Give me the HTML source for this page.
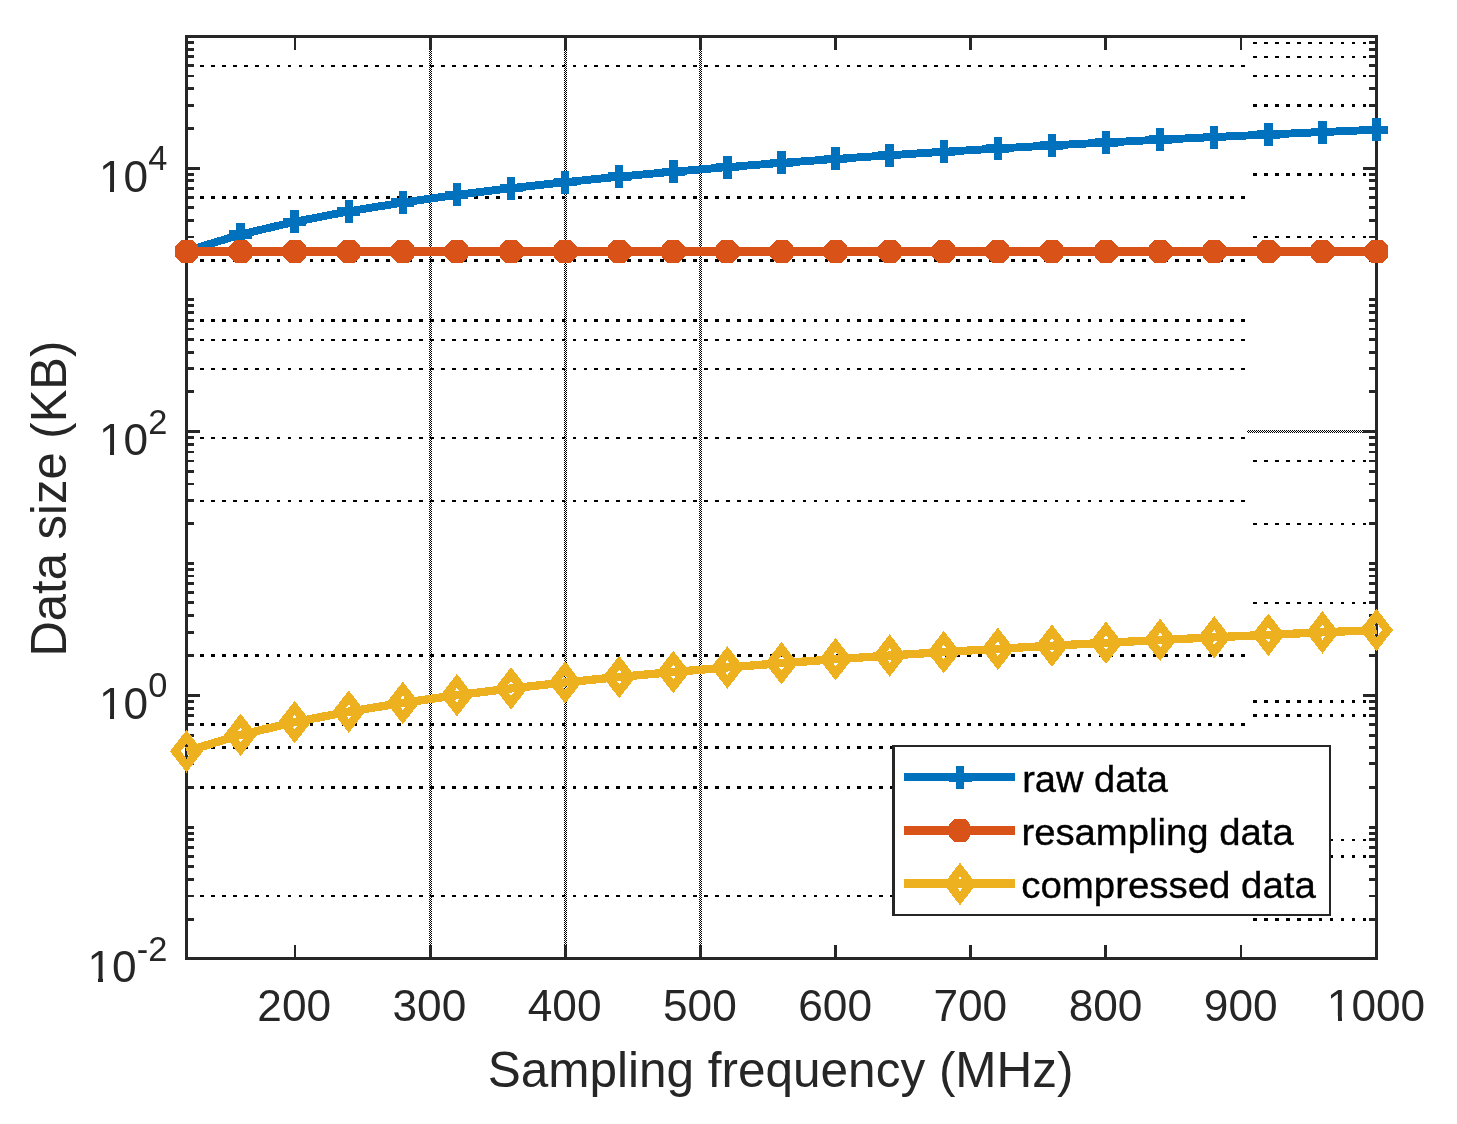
<!DOCTYPE html>
<html lang="en"><head><meta charset="utf-8"><title>Data size vs sampling frequency</title>
<style>html,body{margin:0;padding:0;background:#fff}body{width:1457px;height:1124px;overflow:hidden}svg{display:block}text{font-family:"Liberation Sans",sans-serif}</style></head><body>
<svg width="1457" height="1124" viewBox="0 0 1457 1124">
<defs><pattern id="chk" width="2" height="2" patternUnits="userSpaceOnUse"><rect x="0" y="0" width="1" height="1" fill="#000"/><rect x="1" y="1" width="1" height="1" fill="#000"/></pattern></defs>
<rect width="1457" height="1124" fill="#fff"/>
<g shape-rendering="crispEdges">
<rect x="429" y="50" width="3" height="895" fill="url(#chk)"/>
<rect x="564" y="50" width="3" height="895" fill="url(#chk)"/>
<rect x="699" y="50" width="3" height="895" fill="url(#chk)"/>
<rect x="1247" y="430" width="116" height="3" fill="url(#chk)"/>
<line x1="200" y1="66.0" x2="1245.4" y2="66.0" stroke="#000" stroke-width="2" stroke-dasharray="3.72 7.238"/>
<line x1="200" y1="197.5" x2="1245.4" y2="197.5" stroke="#000" stroke-width="3" stroke-dasharray="3.72 7.238"/>
<line x1="200" y1="260.5" x2="1245.4" y2="260.5" stroke="#000" stroke-width="3" stroke-dasharray="3.72 7.238"/>
<line x1="200" y1="320.5" x2="1245.4" y2="320.5" stroke="#000" stroke-width="3" stroke-dasharray="3.72 7.238"/>
<line x1="200" y1="340.0" x2="1245.4" y2="340.0" stroke="#000" stroke-width="2" stroke-dasharray="3.72 7.238"/>
<line x1="200" y1="369.0" x2="1245.4" y2="369.0" stroke="#000" stroke-width="2" stroke-dasharray="3.72 7.238"/>
<line x1="200" y1="438.0" x2="1245.4" y2="438.0" stroke="#000" stroke-width="2" stroke-dasharray="3.72 7.238"/>
<line x1="200" y1="501.0" x2="1245.4" y2="501.0" stroke="#000" stroke-width="2" stroke-dasharray="3.72 7.238"/>
<line x1="200" y1="655.5" x2="1245.4" y2="655.5" stroke="#000" stroke-width="3" stroke-dasharray="3.72 7.238"/>
<line x1="200" y1="724.5" x2="1245.4" y2="724.5" stroke="#000" stroke-width="3" stroke-dasharray="3.72 7.238"/>
<line x1="200" y1="747.5" x2="1245.4" y2="747.5" stroke="#000" stroke-width="3" stroke-dasharray="3.72 7.238"/>
<line x1="200" y1="787.5" x2="1245.4" y2="787.5" stroke="#000" stroke-width="3" stroke-dasharray="3.72 7.238"/>
<line x1="200" y1="896.0" x2="1245.4" y2="896.0" stroke="#000" stroke-width="2" stroke-dasharray="3.72 7.238"/>
<line x1="1253" y1="43.0" x2="1367" y2="43.0" stroke="#000" stroke-width="2" stroke-dasharray="3.72 7.238"/>
<line x1="1253" y1="57.0" x2="1367" y2="57.0" stroke="#000" stroke-width="2" stroke-dasharray="3.72 7.238"/>
<line x1="1253" y1="76.0" x2="1367" y2="76.0" stroke="#000" stroke-width="2" stroke-dasharray="3.72 7.238"/>
<line x1="1253" y1="105.5" x2="1367" y2="105.5" stroke="#000" stroke-width="3" stroke-dasharray="3.72 7.238"/>
<line x1="1253" y1="174.5" x2="1367" y2="174.5" stroke="#000" stroke-width="3" stroke-dasharray="3.72 7.238"/>
<line x1="1253" y1="237.0" x2="1367" y2="237.0" stroke="#000" stroke-width="2" stroke-dasharray="3.72 7.238"/>
<line x1="1253" y1="461.0" x2="1367" y2="461.0" stroke="#000" stroke-width="2" stroke-dasharray="3.72 7.238"/>
<line x1="1253" y1="524.0" x2="1367" y2="524.0" stroke="#000" stroke-width="2" stroke-dasharray="3.72 7.238"/>
<line x1="1253" y1="603.0" x2="1367" y2="603.0" stroke="#000" stroke-width="2" stroke-dasharray="3.72 7.238"/>
<line x1="1253" y1="701.5" x2="1367" y2="701.5" stroke="#000" stroke-width="3" stroke-dasharray="3.72 7.238"/>
<line x1="1253" y1="715.5" x2="1367" y2="715.5" stroke="#000" stroke-width="3" stroke-dasharray="3.72 7.238"/>
<line x1="1253" y1="840.0" x2="1367" y2="840.0" stroke="#000" stroke-width="2" stroke-dasharray="3.72 7.238"/>
<line x1="1253" y1="856.5" x2="1367" y2="856.5" stroke="#000" stroke-width="3" stroke-dasharray="3.72 7.238"/>
<line x1="1253" y1="919.5" x2="1367" y2="919.5" stroke="#000" stroke-width="3" stroke-dasharray="3.72 7.238"/>
</g>
<g shape-rendering="crispEdges" fill="#262626">
<rect x="185" y="35" width="1193" height="3"/>
<rect x="185" y="957" width="1193" height="3"/>
<rect x="185" y="35" width="3" height="925"/>
<rect x="1375" y="35" width="3" height="925"/>
<rect x="294" y="38" width="2" height="12"/>
<rect x="294" y="945" width="2" height="12"/>
<rect x="429" y="38" width="3" height="12"/>
<rect x="429" y="945" width="3" height="12"/>
<rect x="564" y="38" width="3" height="12"/>
<rect x="564" y="945" width="3" height="12"/>
<rect x="699" y="38" width="3" height="12"/>
<rect x="699" y="945" width="3" height="12"/>
<rect x="834" y="38" width="3" height="12"/>
<rect x="834" y="945" width="3" height="12"/>
<rect x="969" y="38" width="3" height="12"/>
<rect x="969" y="945" width="3" height="12"/>
<rect x="1104" y="38" width="3" height="12"/>
<rect x="1104" y="945" width="3" height="12"/>
<rect x="1240" y="38" width="2" height="12"/>
<rect x="1240" y="945" width="2" height="12"/>
<rect x="188" y="918" width="6" height="3"/>
<rect x="1369" y="918" width="6" height="3"/>
<rect x="188" y="895" width="6" height="2"/>
<rect x="1369" y="895" width="6" height="2"/>
<rect x="188" y="878" width="6" height="3"/>
<rect x="1369" y="878" width="6" height="3"/>
<rect x="188" y="865" width="6" height="3"/>
<rect x="1369" y="865" width="6" height="3"/>
<rect x="188" y="855" width="6" height="3"/>
<rect x="1369" y="855" width="6" height="3"/>
<rect x="188" y="846" width="6" height="3"/>
<rect x="1369" y="846" width="6" height="3"/>
<rect x="188" y="838" width="6" height="3"/>
<rect x="1369" y="838" width="6" height="3"/>
<rect x="188" y="832" width="6" height="3"/>
<rect x="1369" y="832" width="6" height="3"/>
<rect x="188" y="826" width="6" height="3"/>
<rect x="1369" y="826" width="6" height="3"/>
<rect x="188" y="786" width="6" height="3"/>
<rect x="1369" y="786" width="6" height="3"/>
<rect x="188" y="762" width="6" height="3"/>
<rect x="1369" y="762" width="6" height="3"/>
<rect x="188" y="746" width="6" height="3"/>
<rect x="1369" y="746" width="6" height="3"/>
<rect x="188" y="734" width="6" height="3"/>
<rect x="1369" y="734" width="6" height="3"/>
<rect x="188" y="723" width="6" height="3"/>
<rect x="1369" y="723" width="6" height="3"/>
<rect x="188" y="714" width="6" height="3"/>
<rect x="1369" y="714" width="6" height="3"/>
<rect x="188" y="707" width="6" height="3"/>
<rect x="1369" y="707" width="6" height="3"/>
<rect x="188" y="700" width="6" height="3"/>
<rect x="1369" y="700" width="6" height="3"/>
<rect x="188" y="694" width="12" height="3"/>
<rect x="1363" y="694" width="12" height="3"/>
<rect x="188" y="654" width="6" height="3"/>
<rect x="1369" y="654" width="6" height="3"/>
<rect x="188" y="631" width="6" height="3"/>
<rect x="1369" y="631" width="6" height="3"/>
<rect x="188" y="614" width="6" height="3"/>
<rect x="1369" y="614" width="6" height="3"/>
<rect x="188" y="601" width="6" height="3"/>
<rect x="1369" y="601" width="6" height="3"/>
<rect x="188" y="591" width="6" height="3"/>
<rect x="1369" y="591" width="6" height="3"/>
<rect x="188" y="582" width="6" height="3"/>
<rect x="1369" y="582" width="6" height="3"/>
<rect x="188" y="575" width="6" height="2"/>
<rect x="1369" y="575" width="6" height="2"/>
<rect x="188" y="568" width="6" height="3"/>
<rect x="1369" y="568" width="6" height="3"/>
<rect x="188" y="562" width="6" height="3"/>
<rect x="1369" y="562" width="6" height="3"/>
<rect x="188" y="522" width="6" height="3"/>
<rect x="1369" y="522" width="6" height="3"/>
<rect x="188" y="499" width="6" height="3"/>
<rect x="1369" y="499" width="6" height="3"/>
<rect x="188" y="483" width="6" height="2"/>
<rect x="1369" y="483" width="6" height="2"/>
<rect x="188" y="470" width="6" height="3"/>
<rect x="1369" y="470" width="6" height="3"/>
<rect x="188" y="460" width="6" height="2"/>
<rect x="1369" y="460" width="6" height="2"/>
<rect x="188" y="451" width="6" height="2"/>
<rect x="1369" y="451" width="6" height="2"/>
<rect x="188" y="443" width="6" height="3"/>
<rect x="1369" y="443" width="6" height="3"/>
<rect x="188" y="436" width="6" height="3"/>
<rect x="1369" y="436" width="6" height="3"/>
<rect x="188" y="430" width="12" height="3"/>
<rect x="1363" y="430" width="12" height="3"/>
<rect x="188" y="390" width="6" height="3"/>
<rect x="1369" y="390" width="6" height="3"/>
<rect x="188" y="367" width="6" height="3"/>
<rect x="1369" y="367" width="6" height="3"/>
<rect x="188" y="351" width="6" height="3"/>
<rect x="1369" y="351" width="6" height="3"/>
<rect x="188" y="338" width="6" height="3"/>
<rect x="1369" y="338" width="6" height="3"/>
<rect x="188" y="328" width="6" height="2"/>
<rect x="1369" y="328" width="6" height="2"/>
<rect x="188" y="319" width="6" height="3"/>
<rect x="1369" y="319" width="6" height="3"/>
<rect x="188" y="311" width="6" height="3"/>
<rect x="1369" y="311" width="6" height="3"/>
<rect x="188" y="304" width="6" height="3"/>
<rect x="1369" y="304" width="6" height="3"/>
<rect x="188" y="298" width="6" height="3"/>
<rect x="1369" y="298" width="6" height="3"/>
<rect x="188" y="259" width="6" height="3"/>
<rect x="1369" y="259" width="6" height="3"/>
<rect x="188" y="236" width="6" height="2"/>
<rect x="1369" y="236" width="6" height="2"/>
<rect x="188" y="219" width="6" height="3"/>
<rect x="1369" y="219" width="6" height="3"/>
<rect x="188" y="206" width="6" height="3"/>
<rect x="1369" y="206" width="6" height="3"/>
<rect x="188" y="196" width="6" height="3"/>
<rect x="1369" y="196" width="6" height="3"/>
<rect x="188" y="187" width="6" height="3"/>
<rect x="1369" y="187" width="6" height="3"/>
<rect x="188" y="179" width="6" height="3"/>
<rect x="1369" y="179" width="6" height="3"/>
<rect x="188" y="173" width="6" height="3"/>
<rect x="1369" y="173" width="6" height="3"/>
<rect x="188" y="167" width="12" height="3"/>
<rect x="1363" y="167" width="12" height="3"/>
<rect x="188" y="127" width="6" height="3"/>
<rect x="1369" y="127" width="6" height="3"/>
<rect x="188" y="104" width="6" height="3"/>
<rect x="1369" y="104" width="6" height="3"/>
<rect x="188" y="87" width="6" height="3"/>
<rect x="1369" y="87" width="6" height="3"/>
<rect x="188" y="75" width="6" height="2"/>
<rect x="1369" y="75" width="6" height="2"/>
<rect x="188" y="64" width="6" height="3"/>
<rect x="1369" y="64" width="6" height="3"/>
<rect x="188" y="55" width="6" height="3"/>
<rect x="1369" y="55" width="6" height="3"/>
<rect x="188" y="48" width="6" height="3"/>
<rect x="1369" y="48" width="6" height="3"/>
<rect x="188" y="41" width="6" height="3"/>
<rect x="1369" y="41" width="6" height="3"/>
</g>
<g shape-rendering="crispEdges">
<polyline points="186.50,251.00 240.59,234.54 294.68,221.78 348.77,211.35 402.86,202.53 456.95,194.89 511.05,188.16 565.14,182.13 619.23,176.68 673.32,171.70 727.41,167.12 781.50,162.88 835.59,158.94 889.68,155.24 943.77,151.78 997.86,148.51 1051.95,145.41 1106.05,142.48 1160.14,139.69 1214.23,137.03 1268.32,134.48 1322.41,132.05 1376.50,129.72" fill="none" stroke="#0072BD" stroke-width="7.9" stroke-linejoin="miter"/>
<rect x="182.30" y="239.50" width="8.4" height="23" fill="#0072BD"/>
<rect x="175.00" y="246.80" width="23" height="8.4" fill="#0072BD"/>
<rect x="236.39" y="223.04" width="8.4" height="23" fill="#0072BD"/>
<rect x="229.09" y="230.34" width="23" height="8.4" fill="#0072BD"/>
<rect x="290.48" y="210.28" width="8.4" height="23" fill="#0072BD"/>
<rect x="283.18" y="217.58" width="23" height="8.4" fill="#0072BD"/>
<rect x="344.57" y="199.85" width="8.4" height="23" fill="#0072BD"/>
<rect x="337.27" y="207.15" width="23" height="8.4" fill="#0072BD"/>
<rect x="398.66" y="191.03" width="8.4" height="23" fill="#0072BD"/>
<rect x="391.36" y="198.33" width="23" height="8.4" fill="#0072BD"/>
<rect x="452.75" y="183.39" width="8.4" height="23" fill="#0072BD"/>
<rect x="445.45" y="190.69" width="23" height="8.4" fill="#0072BD"/>
<rect x="506.85" y="176.66" width="8.4" height="23" fill="#0072BD"/>
<rect x="499.55" y="183.96" width="23" height="8.4" fill="#0072BD"/>
<rect x="560.94" y="170.63" width="8.4" height="23" fill="#0072BD"/>
<rect x="553.64" y="177.93" width="23" height="8.4" fill="#0072BD"/>
<rect x="615.03" y="165.18" width="8.4" height="23" fill="#0072BD"/>
<rect x="607.73" y="172.48" width="23" height="8.4" fill="#0072BD"/>
<rect x="669.12" y="160.20" width="8.4" height="23" fill="#0072BD"/>
<rect x="661.82" y="167.50" width="23" height="8.4" fill="#0072BD"/>
<rect x="723.21" y="155.62" width="8.4" height="23" fill="#0072BD"/>
<rect x="715.91" y="162.92" width="23" height="8.4" fill="#0072BD"/>
<rect x="777.30" y="151.38" width="8.4" height="23" fill="#0072BD"/>
<rect x="770.00" y="158.68" width="23" height="8.4" fill="#0072BD"/>
<rect x="831.39" y="147.44" width="8.4" height="23" fill="#0072BD"/>
<rect x="824.09" y="154.74" width="23" height="8.4" fill="#0072BD"/>
<rect x="885.48" y="143.74" width="8.4" height="23" fill="#0072BD"/>
<rect x="878.18" y="151.04" width="23" height="8.4" fill="#0072BD"/>
<rect x="939.57" y="140.28" width="8.4" height="23" fill="#0072BD"/>
<rect x="932.27" y="147.58" width="23" height="8.4" fill="#0072BD"/>
<rect x="993.66" y="137.01" width="8.4" height="23" fill="#0072BD"/>
<rect x="986.36" y="144.31" width="23" height="8.4" fill="#0072BD"/>
<rect x="1047.75" y="133.91" width="8.4" height="23" fill="#0072BD"/>
<rect x="1040.45" y="141.21" width="23" height="8.4" fill="#0072BD"/>
<rect x="1101.85" y="130.98" width="8.4" height="23" fill="#0072BD"/>
<rect x="1094.55" y="138.28" width="23" height="8.4" fill="#0072BD"/>
<rect x="1155.94" y="128.19" width="8.4" height="23" fill="#0072BD"/>
<rect x="1148.64" y="135.49" width="23" height="8.4" fill="#0072BD"/>
<rect x="1210.03" y="125.53" width="8.4" height="23" fill="#0072BD"/>
<rect x="1202.73" y="132.83" width="23" height="8.4" fill="#0072BD"/>
<rect x="1264.12" y="122.98" width="8.4" height="23" fill="#0072BD"/>
<rect x="1256.82" y="130.28" width="23" height="8.4" fill="#0072BD"/>
<rect x="1318.21" y="120.55" width="8.4" height="23" fill="#0072BD"/>
<rect x="1310.91" y="127.85" width="23" height="8.4" fill="#0072BD"/>
<rect x="1372.30" y="118.22" width="8.4" height="23" fill="#0072BD"/>
<rect x="1365.00" y="125.52" width="23" height="8.4" fill="#0072BD"/>
<rect x="186.50" y="247" width="1190.00" height="9" fill="#D95319"/>
<polygon points="181.00,240.00 192.00,240.00 198.00,246.00 198.00,257.00 192.00,263.00 181.00,263.00 175.00,257.00 175.00,246.00" fill="#D95319"/>
<polygon points="235.09,240.00 246.09,240.00 252.09,246.00 252.09,257.00 246.09,263.00 235.09,263.00 229.09,257.00 229.09,246.00" fill="#D95319"/>
<polygon points="289.18,240.00 300.18,240.00 306.18,246.00 306.18,257.00 300.18,263.00 289.18,263.00 283.18,257.00 283.18,246.00" fill="#D95319"/>
<polygon points="343.27,240.00 354.27,240.00 360.27,246.00 360.27,257.00 354.27,263.00 343.27,263.00 337.27,257.00 337.27,246.00" fill="#D95319"/>
<polygon points="397.36,240.00 408.36,240.00 414.36,246.00 414.36,257.00 408.36,263.00 397.36,263.00 391.36,257.00 391.36,246.00" fill="#D95319"/>
<polygon points="451.45,240.00 462.45,240.00 468.45,246.00 468.45,257.00 462.45,263.00 451.45,263.00 445.45,257.00 445.45,246.00" fill="#D95319"/>
<polygon points="505.55,240.00 516.55,240.00 522.55,246.00 522.55,257.00 516.55,263.00 505.55,263.00 499.55,257.00 499.55,246.00" fill="#D95319"/>
<polygon points="559.64,240.00 570.64,240.00 576.64,246.00 576.64,257.00 570.64,263.00 559.64,263.00 553.64,257.00 553.64,246.00" fill="#D95319"/>
<polygon points="613.73,240.00 624.73,240.00 630.73,246.00 630.73,257.00 624.73,263.00 613.73,263.00 607.73,257.00 607.73,246.00" fill="#D95319"/>
<polygon points="667.82,240.00 678.82,240.00 684.82,246.00 684.82,257.00 678.82,263.00 667.82,263.00 661.82,257.00 661.82,246.00" fill="#D95319"/>
<polygon points="721.91,240.00 732.91,240.00 738.91,246.00 738.91,257.00 732.91,263.00 721.91,263.00 715.91,257.00 715.91,246.00" fill="#D95319"/>
<polygon points="776.00,240.00 787.00,240.00 793.00,246.00 793.00,257.00 787.00,263.00 776.00,263.00 770.00,257.00 770.00,246.00" fill="#D95319"/>
<polygon points="830.09,240.00 841.09,240.00 847.09,246.00 847.09,257.00 841.09,263.00 830.09,263.00 824.09,257.00 824.09,246.00" fill="#D95319"/>
<polygon points="884.18,240.00 895.18,240.00 901.18,246.00 901.18,257.00 895.18,263.00 884.18,263.00 878.18,257.00 878.18,246.00" fill="#D95319"/>
<polygon points="938.27,240.00 949.27,240.00 955.27,246.00 955.27,257.00 949.27,263.00 938.27,263.00 932.27,257.00 932.27,246.00" fill="#D95319"/>
<polygon points="992.36,240.00 1003.36,240.00 1009.36,246.00 1009.36,257.00 1003.36,263.00 992.36,263.00 986.36,257.00 986.36,246.00" fill="#D95319"/>
<polygon points="1046.45,240.00 1057.45,240.00 1063.45,246.00 1063.45,257.00 1057.45,263.00 1046.45,263.00 1040.45,257.00 1040.45,246.00" fill="#D95319"/>
<polygon points="1100.55,240.00 1111.55,240.00 1117.55,246.00 1117.55,257.00 1111.55,263.00 1100.55,263.00 1094.55,257.00 1094.55,246.00" fill="#D95319"/>
<polygon points="1154.64,240.00 1165.64,240.00 1171.64,246.00 1171.64,257.00 1165.64,263.00 1154.64,263.00 1148.64,257.00 1148.64,246.00" fill="#D95319"/>
<polygon points="1208.73,240.00 1219.73,240.00 1225.73,246.00 1225.73,257.00 1219.73,263.00 1208.73,263.00 1202.73,257.00 1202.73,246.00" fill="#D95319"/>
<polygon points="1262.82,240.00 1273.82,240.00 1279.82,246.00 1279.82,257.00 1273.82,263.00 1262.82,263.00 1256.82,257.00 1256.82,246.00" fill="#D95319"/>
<polygon points="1316.91,240.00 1327.91,240.00 1333.91,246.00 1333.91,257.00 1327.91,263.00 1316.91,263.00 1310.91,257.00 1310.91,246.00" fill="#D95319"/>
<polygon points="1371.00,240.00 1382.00,240.00 1388.00,246.00 1388.00,257.00 1382.00,263.00 1371.00,263.00 1365.00,257.00 1365.00,246.00" fill="#D95319"/>
<polyline points="186.50,751.30 240.59,734.84 294.68,722.08 348.77,711.65 402.86,702.83 456.95,695.19 511.05,688.46 565.14,682.43 619.23,676.98 673.32,672.00 727.41,667.42 781.50,663.18 835.59,659.24 889.68,655.54 943.77,652.08 997.86,648.81 1051.95,645.71 1106.05,642.78 1160.14,639.99 1214.23,637.33 1268.32,634.78 1322.41,632.35 1376.50,630.02" fill="none" stroke="#EDB120" stroke-width="8.3" stroke-linejoin="miter"/>
<path fill-rule="evenodd" fill="#EDB120" d="M186.50 730.00L203.00 751.30L186.50 772.60L170.00 751.30ZM186.50 744.00L192.20 751.30L186.50 758.60L180.80 751.30Z"/>
<path fill-rule="evenodd" fill="#EDB120" d="M240.59 713.54L257.09 734.84L240.59 756.14L224.09 734.84ZM240.59 727.54L246.29 734.84L240.59 742.14L234.89 734.84Z"/>
<path fill-rule="evenodd" fill="#EDB120" d="M294.68 700.78L311.18 722.08L294.68 743.38L278.18 722.08ZM294.68 714.78L300.38 722.08L294.68 729.38L288.98 722.08Z"/>
<path fill-rule="evenodd" fill="#EDB120" d="M348.77 690.35L365.27 711.65L348.77 732.95L332.27 711.65ZM348.77 704.35L354.47 711.65L348.77 718.95L343.07 711.65Z"/>
<path fill-rule="evenodd" fill="#EDB120" d="M402.86 681.53L419.36 702.83L402.86 724.13L386.36 702.83ZM402.86 695.53L408.56 702.83L402.86 710.13L397.16 702.83Z"/>
<path fill-rule="evenodd" fill="#EDB120" d="M456.95 673.89L473.45 695.19L456.95 716.49L440.45 695.19ZM456.95 687.89L462.65 695.19L456.95 702.49L451.25 695.19Z"/>
<path fill-rule="evenodd" fill="#EDB120" d="M511.05 667.16L527.55 688.46L511.05 709.76L494.55 688.46ZM511.05 681.16L516.75 688.46L511.05 695.76L505.35 688.46Z"/>
<path fill-rule="evenodd" fill="#EDB120" d="M565.14 661.13L581.64 682.43L565.14 703.73L548.64 682.43ZM565.14 675.13L570.84 682.43L565.14 689.73L559.44 682.43Z"/>
<path fill-rule="evenodd" fill="#EDB120" d="M619.23 655.68L635.73 676.98L619.23 698.28L602.73 676.98ZM619.23 669.68L624.93 676.98L619.23 684.28L613.53 676.98Z"/>
<path fill-rule="evenodd" fill="#EDB120" d="M673.32 650.70L689.82 672.00L673.32 693.30L656.82 672.00ZM673.32 664.70L679.02 672.00L673.32 679.30L667.62 672.00Z"/>
<path fill-rule="evenodd" fill="#EDB120" d="M727.41 646.12L743.91 667.42L727.41 688.72L710.91 667.42ZM727.41 660.12L733.11 667.42L727.41 674.72L721.71 667.42Z"/>
<path fill-rule="evenodd" fill="#EDB120" d="M781.50 641.88L798.00 663.18L781.50 684.48L765.00 663.18ZM781.50 655.88L787.20 663.18L781.50 670.48L775.80 663.18Z"/>
<path fill-rule="evenodd" fill="#EDB120" d="M835.59 637.94L852.09 659.24L835.59 680.54L819.09 659.24ZM835.59 651.94L841.29 659.24L835.59 666.54L829.89 659.24Z"/>
<path fill-rule="evenodd" fill="#EDB120" d="M889.68 634.24L906.18 655.54L889.68 676.84L873.18 655.54ZM889.68 648.24L895.38 655.54L889.68 662.84L883.98 655.54Z"/>
<path fill-rule="evenodd" fill="#EDB120" d="M943.77 630.78L960.27 652.08L943.77 673.38L927.27 652.08ZM943.77 644.78L949.47 652.08L943.77 659.38L938.07 652.08Z"/>
<path fill-rule="evenodd" fill="#EDB120" d="M997.86 627.51L1014.36 648.81L997.86 670.11L981.36 648.81ZM997.86 641.51L1003.56 648.81L997.86 656.11L992.16 648.81Z"/>
<path fill-rule="evenodd" fill="#EDB120" d="M1051.95 624.41L1068.45 645.71L1051.95 667.01L1035.45 645.71ZM1051.95 638.41L1057.65 645.71L1051.95 653.01L1046.25 645.71Z"/>
<path fill-rule="evenodd" fill="#EDB120" d="M1106.05 621.48L1122.55 642.78L1106.05 664.08L1089.55 642.78ZM1106.05 635.48L1111.75 642.78L1106.05 650.08L1100.35 642.78Z"/>
<path fill-rule="evenodd" fill="#EDB120" d="M1160.14 618.69L1176.64 639.99L1160.14 661.29L1143.64 639.99ZM1160.14 632.69L1165.84 639.99L1160.14 647.29L1154.44 639.99Z"/>
<path fill-rule="evenodd" fill="#EDB120" d="M1214.23 616.03L1230.73 637.33L1214.23 658.63L1197.73 637.33ZM1214.23 630.03L1219.93 637.33L1214.23 644.63L1208.53 637.33Z"/>
<path fill-rule="evenodd" fill="#EDB120" d="M1268.32 613.48L1284.82 634.78L1268.32 656.08L1251.82 634.78ZM1268.32 627.48L1274.02 634.78L1268.32 642.08L1262.62 634.78Z"/>
<path fill-rule="evenodd" fill="#EDB120" d="M1322.41 611.05L1338.91 632.35L1322.41 653.65L1305.91 632.35ZM1322.41 625.05L1328.11 632.35L1322.41 639.65L1316.71 632.35Z"/>
<path fill-rule="evenodd" fill="#EDB120" d="M1376.50 608.72L1393.00 630.02L1376.50 651.32L1360.00 630.02ZM1376.50 622.72L1382.20 630.02L1376.50 637.32L1370.80 630.02Z"/>
</g>
<g shape-rendering="crispEdges">
<rect x="892" y="745" width="439" height="171" fill="#262626"/>
<rect x="895" y="747" width="434" height="167" fill="#fff"/>
<rect x="904" y="773" width="111" height="8" fill="#0072BD"/>
<rect x="955.80" y="766.00" width="8.4" height="23" fill="#0072BD"/>
<rect x="948.50" y="773.30" width="23" height="8.4" fill="#0072BD"/>
<rect x="904" y="826" width="111" height="9" fill="#D95319"/>
<polygon points="955,819 966,819 970.4,825 970.4,836 966,842 955,842 948.6,836 948.6,825" fill="#D95319"/>
<rect x="904" y="879" width="111" height="9" fill="#EDB120"/>
<path fill-rule="evenodd" fill="#EDB120" d="M960.00 862.70L976.50 884.00L960.00 905.30L943.50 884.00ZM960.00 876.70L965.70 884.00L960.00 891.30L954.30 884.00Z"/>
</g>
<g font-size="36.7" fill="#000" stroke="#000" stroke-width="0.35">
<text transform="translate(1022.20,791.90) scale(1.0360,1)" letter-spacing="0.00">raw data</text>
<text transform="translate(1021.40,844.90) scale(1.0430,1)" letter-spacing="0.00">resampling data</text>
<text transform="translate(1021.20,898.30) scale(1.0470,1)" letter-spacing="0.00">compressed data</text>
</g>
<g font-size="45" fill="#262626" text-anchor="middle">
<text transform="translate(294.18,1021) scale(0.983,1)">200</text>
<text transform="translate(429.41,1021) scale(0.983,1)">300</text>
<text transform="translate(564.64,1021) scale(0.983,1)">400</text>
<text transform="translate(699.86,1021) scale(0.983,1)">500</text>
<text transform="translate(835.09,1021) scale(0.983,1)">600</text>
<text transform="translate(970.32,1021) scale(0.983,1)">700</text>
<text transform="translate(1105.55,1021) scale(0.983,1)">800</text>
<text transform="translate(1240.77,1021) scale(0.983,1)">900</text>
<text transform="translate(1376.00,1021) scale(0.983,1)">1000</text>
</g>
<g font-size="45" fill="#262626" text-anchor="end">
<text transform="translate(167.3,191.71) scale(0.983,1)">10<tspan font-size="35" dy="-21.3">4</tspan></text>
<text transform="translate(167.3,455.14) scale(0.983,1)">10<tspan font-size="35" dy="-21.3">2</tspan></text>
<text transform="translate(167.3,718.57) scale(0.983,1)">10<tspan font-size="35" dy="-21.3">0</tspan></text>
<text transform="translate(167.3,982.00) scale(0.983,1)">10<tspan font-size="35" dy="-21.3">-2</tspan></text>
</g>
<g fill="#262626" text-anchor="middle">
<text font-size="49.5" transform="translate(780.6,1087.2)">Sampling frequency (MHz)</text>
<text font-size="50.5" transform="translate(66,498.6) rotate(-90) scale(0.9705,1)">Data size (KB)</text>
</g>
<g fill="#fff" shape-rendering="crispEdges">
<rect x="1329" y="1016" width="9" height="6"/>
<rect x="1342" y="1016" width="9" height="6"/>
<rect x="101" y="187" width="9" height="6"/>
<rect x="114" y="187" width="9" height="6"/>
<rect x="101" y="450" width="9" height="6"/>
<rect x="114" y="450" width="9" height="6"/>
<rect x="101" y="714" width="9" height="6"/>
<rect x="114" y="714" width="9" height="6"/>
<rect x="89" y="977" width="9" height="6"/>
<rect x="103" y="977" width="9" height="6"/>
</g>
</svg></body></html>
